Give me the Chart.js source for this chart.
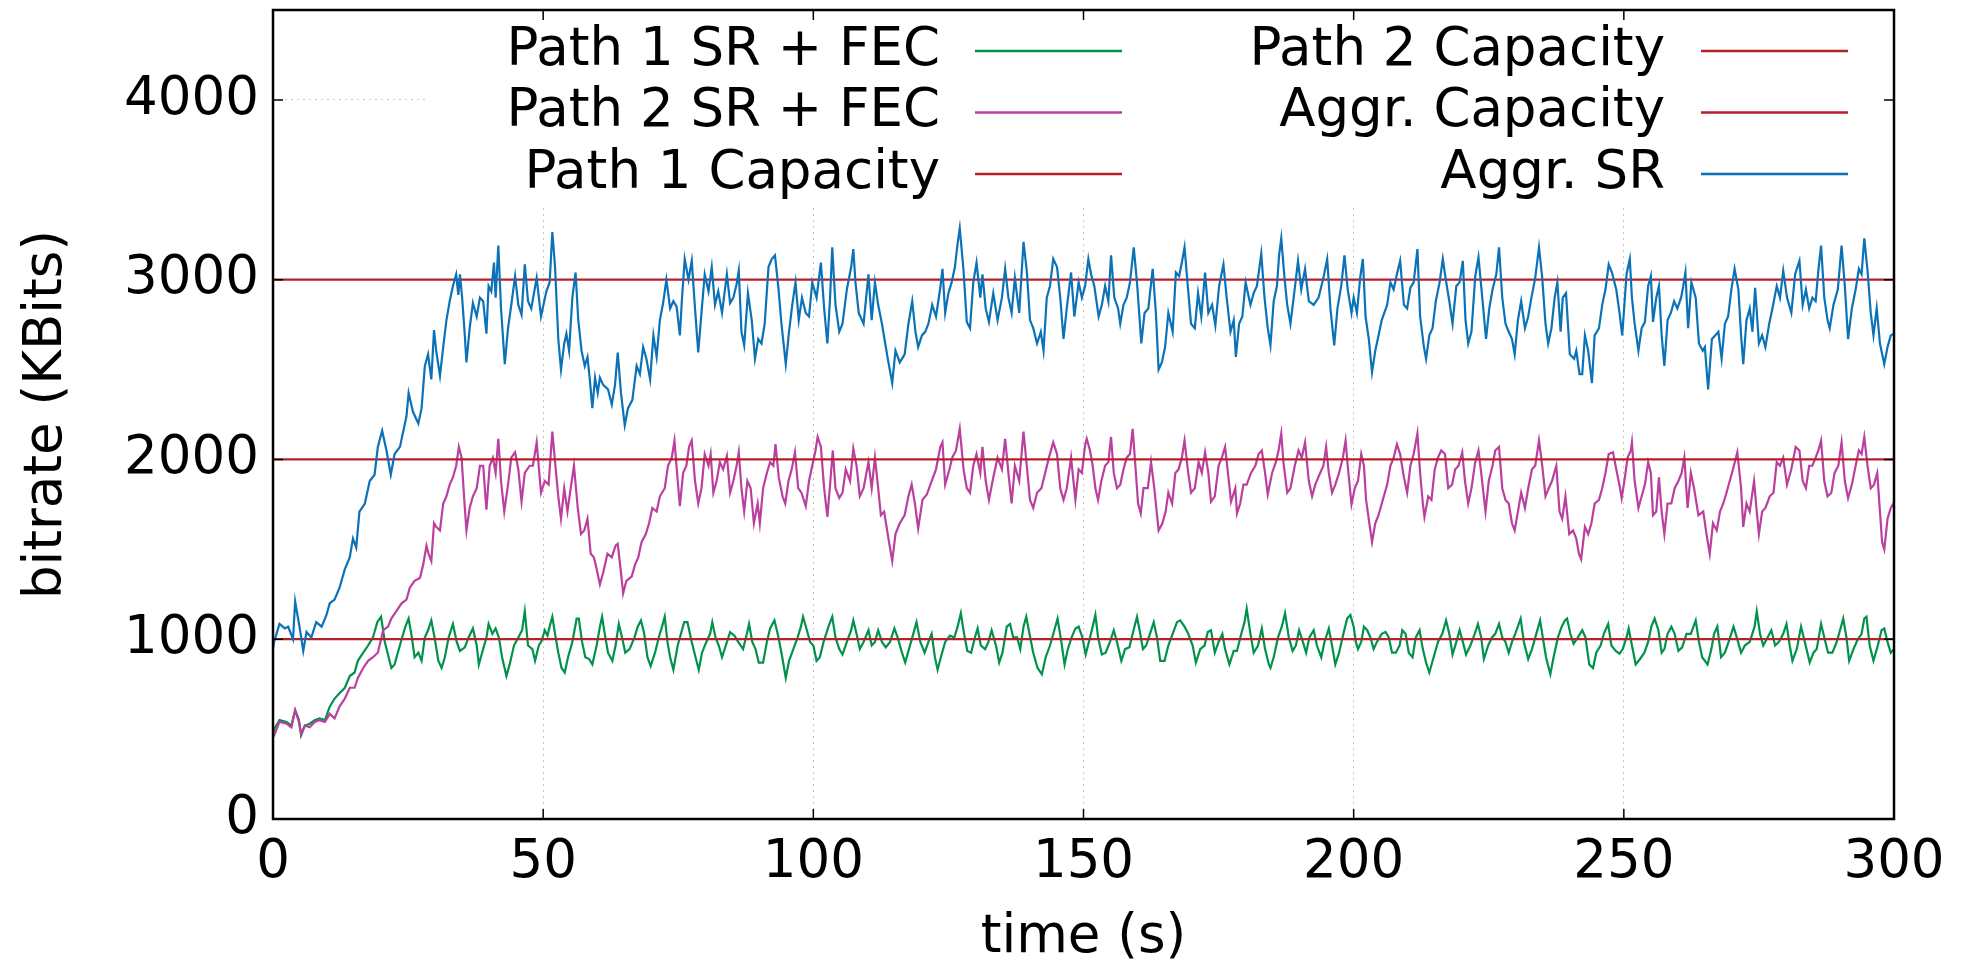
<!DOCTYPE html>
<html>
<head>
<meta charset="utf-8">
<title>bitrate over time</title>
<script src="https://cdn.jsdelivr.net/npm/chart.js@4.4.1/dist/chart.umd.min.js"></script>
<style>
  body { margin: 0; background: #fff; }
  canvas { display: block; }
</style>
</head>
<body>
<canvas id="rateChart" width="1966" height="965"></canvas>
<script>
// axis ticks
const xTicks = [0, 50, 100, 150, 200, 250, 300];
const yTicks = [0, 1000, 2000, 3000, 4000];
const yMax = 4500;

// legend labels, same order as gnuplot key
const seriesLabels = ['Path 1 SR + FEC', 'Path 2 SR + FEC', 'Path 1 Capacity',
                      'Path 2 Capacity', 'Aggr. Capacity', 'Aggr. SR'];
const seriesColors = ['#00924a', '#bb3f9f', '#b3202a', '#b3202a', '#b3202a', '#0b72b8'];

// link capacities (KBits)
const path1Capacity = 1000;
const path2Capacity = 2000;
const aggrCapacity = 3000;

// [time (s), bitrate (KBits)]
const path1Rate = [
  [0,480],[0.2,500],[1.2,550],[2.5,540],[3.4,520],[4.1,605],[4.8,550],[5.2,465],[5.9,520],[6.8,530],[7.7,550],[8.6,560],[9.6,550],
  [10.5,625],[11.4,670],[12.3,700],[13.3,730],[14.2,795],[15.1,815],[15.7,880],[16.7,925],[17.6,965],[18.5,1010],[19.3,1095],[20.0,1125],
  [20.7,985],[21.4,900],[21.9,840],[22.5,860],[23.1,925],[23.9,1010],[24.5,1070],[25.1,1115],[25.7,1010],[26.2,900],[26.9,925],[27.5,880],
  [28.1,1010],[28.7,1050],[29.3,1105],[29.9,1010],[30.6,880],[31.2,840],[31.8,900],[32.5,1010],[33.3,1085],[34.0,985],[34.6,935],[35.5,955],
  [36.2,1010],[37.0,1060],[37.7,965],[38.1,860],[38.7,925],[39.5,1010],[39.9,1085],[40.6,1030],[41.2,1060],[41.8,1010],[42.4,900],[43.2,795],
  [43.8,860],[44.6,965],[45.4,1010],[46.1,1050],[46.6,1155],[47.2,965],[48.0,945],[48.5,880],[49.2,965],[49.7,990],[50.3,1050],[50.8,1020],
  [51.2,1070],[51.7,1125],[52.2,1030],[52.8,925],[53.4,840],[54.0,815],[54.6,900],[55.4,985],[56.2,1115],[56.6,1115],[57.2,985],[57.8,900],
  [58.5,890],[59.1,860],[59.9,965],[60.5,1070],[60.9,1125],[61.4,1030],[62.0,925],[62.8,880],[63.4,965],[64.0,1085],[64.6,1010],[65.2,925],
  [66.0,945],[66.9,1010],[67.5,1070],[68.1,1105],[68.7,1030],[69.3,900],[69.9,850],[70.7,925],[71.4,1010],[72.0,1070],[72.5,1125],[73.0,985],
  [73.5,900],[74.1,830],[74.9,965],[75.5,1030],[76.1,1095],[76.7,1095],[77.5,985],[78.2,900],[78.8,830],[79.4,925],[80.2,985],[80.9,1030],
  [81.3,1095],[81.9,1010],[82.5,965],[83.1,900],[83.8,965],[84.6,1040],[85.4,1020],[86.1,985],[87.0,945],[87.7,1030],[88.1,1085],[88.7,985],
  [89.3,945],[89.9,870],[90.7,870],[91.4,985],[92.0,1060],[92.8,1105],[93.4,1030],[94.1,925],[94.9,785],[95.5,880],[96.3,945],[97.1,1010],
  [97.7,1070],[98.1,1125],[98.8,1050],[99.4,985],[100.0,965],[100.6,880],[101.2,900],[101.9,985],[102.8,1070],[103.5,1125],[104.1,1010],
  [104.8,945],[105.4,915],[106.2,985],[107.0,1050],[107.4,1105],[108.0,1030],[108.6,945],[109.3,985],[110.2,1050],[110.8,965],[111.4,985],
  [112.0,1050],[112.7,985],[113.4,955],[114.2,985],[115.0,1060],[115.6,1010],[116.4,925],[117.0,870],[117.7,945],[118.5,1030],[119.1,1095],
  [119.8,985],[120.6,925],[121.3,985],[121.9,1030],[122.5,900],[123.0,830],[123.6,900],[124.4,985],[125.3,1020],[126.1,1010],[126.7,1070],
  [127.3,1145],[127.9,1030],[128.5,935],[129.2,925],[129.9,1010],[130.4,1060],[131.0,965],[131.8,945],[132.4,985],[133.0,1050],[133.8,965],
  [134.4,870],[135.0,925],[135.8,1070],[136.4,1085],[137.0,1010],[137.7,1010],[138.3,945],[138.9,1070],[139.4,1125],[140.0,1030],[140.7,925],
  [141.5,840],[142.3,805],[143.0,900],[143.8,965],[144.6,1050],[145.2,1115],[145.9,985],[146.5,860],[147.1,945],[147.8,1010],[148.5,1060],
  [149.1,1070],[149.8,1010],[150.4,915],[151.0,985],[151.7,1070],[152.2,1135],[152.7,1010],[153.4,915],[154.1,925],[154.9,985],[155.6,1050],
  [156.2,985],[157.0,880],[157.7,945],[158.5,955],[159.1,1030],[159.9,1125],[160.5,1030],[161.0,945],[161.6,965],[162.3,1030],[163.0,1095],
  [163.6,1010],[164.2,880],[165.0,880],[165.7,965],[166.5,1030],[167.3,1095],[167.9,1105],[168.7,1070],[169.4,1030],[170.2,965],[170.8,870],
  [171.6,945],[172.4,965],[173.0,1040],[173.6,1050],[174.3,925],[175.0,985],[175.7,1030],[176.2,945],[177.0,860],[177.8,935],[178.4,935],
  [179.2,1030],[179.8,1095],[180.2,1170],[180.9,1030],[181.5,925],[182.3,965],[183.0,1060],[183.6,945],[184.3,860],[184.6,840],[185.2,900],
  [186.0,1010],[186.7,1070],[187.3,1145],[188.0,1010],[188.7,935],[189.3,965],[189.9,1050],[190.6,985],[191.2,925],[191.8,1010],[192.6,1050],
  [193.2,965],[194.0,900],[194.6,985],[195.4,1060],[196.0,965],[196.6,860],[197.3,925],[198.1,1030],[198.8,1115],[199.4,1135],[200.0,1070],
  [200.4,985],[200.8,945],[201.4,985],[201.9,1070],[202.5,1050],[203.1,1010],[203.7,945],[204.3,985],[205.2,1030],[205.9,1040],[206.5,1010],
  [207.1,925],[207.8,925],[208.5,965],[209.0,1050],[209.6,1030],[210.2,925],[210.9,900],[211.5,1010],[212.2,1050],[212.8,945],[213.4,870],
  [214.0,815],[214.8,900],[215.6,985],[216.4,1030],[217.1,1105],[217.7,1030],[218.3,915],[219.0,985],[219.6,1050],[220.2,985],[220.8,915],
  [221.6,965],[222.4,1030],[223.0,1085],[223.6,1010],[224.1,890],[224.9,965],[225.6,1010],[226.2,1030],[226.9,1085],[227.5,1010],[228.1,985],
  [228.7,925],[229.3,985],[229.9,1030],[230.9,1115],[231.5,985],[232.3,890],[233.0,945],[233.8,1030],[234.5,1105],[235.0,1010],[235.6,900],
  [236.4,805],[237.0,900],[237.8,1010],[238.5,1070],[239.1,1105],[239.5,1115],[240.1,1030],[240.7,975],[241.5,1010],[242.3,1050],[242.9,1010],
  [243.6,860],[244.3,840],[244.9,925],[245.7,965],[246.3,1030],[247.1,1085],[247.7,965],[248.5,935],[249.2,920],[249.8,945],[250.5,1010],
  [250.9,1060],[251.5,965],[252.2,860],[253.0,890],[253.8,925],[254.5,985],[255.1,1070],[255.7,1115],[256.4,1050],[257.0,925],[257.5,945],
  [258.1,1030],[258.8,1070],[259.4,1030],[260.1,935],[260.8,955],[261.6,1030],[262.4,1030],[263.3,1105],[263.9,985],[264.5,900],[265.5,860],
  [266.2,945],[266.7,1030],[267.3,1070],[268.0,900],[268.7,925],[269.4,985],[270.3,1070],[270.9,1010],[271.7,925],[272.4,965],[273.3,985],
  [274.2,1070],[274.6,1155],[275.2,1030],[275.8,965],[276.6,1010],[277.3,1050],[278.0,965],[278.7,985],[279.5,1030],[280.1,1085],[280.7,965],
  [281.2,880],[282.0,945],[282.8,1070],[283.5,985],[284.4,870],[285.1,925],[285.7,945],[286.5,1085],[287.1,1010],[287.8,925],[288.6,925],
  [289.4,985],[290.2,1070],[290.6,1115],[291.2,1010],[291.7,880],[292.5,945],[293.3,1000],[294.0,1030],[294.5,1115],[294.9,1125],[295.5,965],
  [296.2,880],[297.0,965],[297.7,1050],[298.2,1060],[298.8,985],[299.4,925],[300,945]
];

const path2Rate = [
  [0,455],[0.2,465],[1.2,540],[2.5,530],[3.4,510],[4.1,605],[4.8,540],[5.2,475],[5.9,520],[6.8,510],[7.7,540],[8.6,550],[9.6,540],
  [10.5,585],[11.4,560],[12.3,625],[13.3,670],[14.2,730],[15.1,730],[15.7,785],[16.7,840],[17.6,880],[18.5,900],[19.4,925],[20.4,1050],
  [21.3,1070],[21.9,1115],[22.8,1155],[23.8,1200],[24.7,1220],[25.3,1285],[26.2,1325],[27.2,1340],[27.8,1415],[28.4,1520],[28.8,1475],
  [29.3,1435],[29.8,1645],[30.2,1625],[30.9,1605],[31.5,1755],[32.1,1795],[32.7,1860],[33.3,1900],[33.9,1965],[34.4,2070],[34.9,2010],
  [35.4,1775],[35.8,1605],[36.4,1730],[37.0,1795],[37.7,1840],[38.3,1965],[38.9,1965],[39.5,1720],[40.1,1965],[40.7,2010],[41.2,1925],
  [41.7,2115],[42.2,1880],[42.8,1710],[43.5,1860],[44.1,2010],[44.8,2040],[45.4,1945],[46.0,1765],[46.6,1925],[47.5,1965],[48.1,1965],
  [48.8,2095],[49.6,1815],[50.3,1880],[51.0,1860],[51.7,2155],[52.2,1985],[52.8,1795],[53.3,1670],[53.9,1840],[54.5,1710],[55.1,1840],
  [55.7,1965],[56.4,1730],[57.0,1585],[57.6,1605],[58.2,1670],[58.8,1475],[59.4,1455],[59.9,1390],[60.5,1305],[61.1,1370],[61.9,1475],
  [62.7,1455],[63.4,1520],[63.8,1530],[64.4,1370],[64.8,1255],[65.4,1325],[66.4,1350],[67.0,1415],[67.6,1455],[68.2,1540],[69.0,1585],
  [69.6,1645],[70.2,1730],[71.0,1710],[71.6,1795],[72.5,1840],[73.1,1965],[73.8,2010],[74.3,2105],[74.9,1880],[75.3,1740],[75.9,1925],
  [76.5,1965],[77.0,2070],[77.5,2105],[78.1,1880],[78.7,1755],[79.3,1840],[79.9,2030],[80.6,1965],[81.0,2030],[81.5,1815],[82.1,1880],
  [82.7,1985],[83.3,1945],[84.0,2020],[84.6,1815],[85.2,1880],[85.8,1965],[86.2,2040],[86.7,1840],[87.2,1710],[87.8,1880],[88.4,1840],
  [89.0,1645],[89.7,1755],[90.1,1645],[90.7,1840],[91.4,1925],[92.0,1985],[92.6,1965],[93.0,2085],[93.6,1900],[94.3,1795],[94.8,1755],
  [95.4,1880],[96.0,1945],[96.6,2040],[97.2,1840],[97.8,1815],[98.6,1740],[99.2,1880],[99.8,1965],[100.4,2050],[100.8,2125],[101.4,2070],
  [102.0,1840],[102.6,1680],[103.1,1860],[103.6,2050],[104.1,1840],[104.8,1785],[105.4,1815],[106.0,1945],[106.8,1880],[107.4,2060],
  [108.0,1965],[108.6,1795],[109.3,1840],[110.2,1985],[110.8,1840],[111.4,2010],[112.0,1840],[112.5,1690],[113.1,1710],[113.9,1560],
  [114.6,1435],[115.2,1585],[116.0,1645],[116.9,1690],[117.6,1795],[118.2,1860],[118.8,1755],[119.4,1615],[120.2,1775],[121.0,1805],
  [121.9,1880],[122.7,1945],[123.5,2070],[123.9,2095],[124.4,1860],[125.2,1945],[125.7,2010],[126.4,2050],[127.1,2170],[127.8,1945],
  [128.4,1840],[129.0,1815],[129.6,1965],[130.2,2030],[130.9,1925],[131.3,2070],[131.9,1880],[132.5,1775],[133.3,1900],[134.1,2010],
  [134.9,1945],[135.5,2115],[136.1,1925],[136.7,1755],[137.3,1965],[138.1,1880],[138.9,2155],[139.5,1965],[140.1,1775],[140.7,1730],
  [141.4,1815],[142.2,1840],[142.9,1925],[143.6,2010],[144.4,2095],[145.1,2030],[145.7,1840],[146.3,1775],[146.9,1840],[147.7,2010],
  [148.5,1775],[149.1,1945],[149.7,1925],[150.3,2080],[150.6,2115],[151.2,2050],[151.7,1965],[152.2,1840],[152.7,1775],[153.3,1880],
  [154.0,1965],[154.6,1985],[155.1,2125],[155.6,1925],[156.2,1840],[156.8,1860],[157.4,1945],[158.0,2010],[158.6,2030],[159.1,2170],
  [159.6,1965],[160.1,1755],[160.6,1700],[161.1,1840],[161.9,1840],[162.5,1985],[163.1,1840],[163.9,1605],[164.6,1645],[165.2,1710],
  [165.7,1815],[166.4,1755],[167.0,1925],[167.6,1945],[168.2,2010],[168.7,2105],[169.3,1945],[169.9,1815],[170.6,1840],[171.3,1985],
  [171.9,1925],[172.5,2040],[173.1,1925],[173.6,1765],[174.3,1795],[175.0,1965],[175.6,2010],[176.2,2070],[176.9,1880],[177.3,1765],
  [178.1,1840],[178.4,1700],[179.0,1755],[179.6,1860],[180.2,1860],[181.0,1925],[181.8,1965],[182.4,2030],[183.0,2050],[183.6,1925],
  [184.1,1805],[184.9,1925],[185.6,1985],[186.1,2050],[186.6,2145],[187.0,1985],[187.7,1815],[188.3,1840],[189.1,1965],[189.8,2050],
  [190.4,2010],[191.0,2095],[191.7,1880],[192.3,1795],[192.9,1860],[193.8,1925],[194.4,1965],[194.9,2070],[195.4,1925],[196.0,1815],
  [196.6,1860],[197.3,1925],[198.0,2010],[198.5,2105],[198.9,1965],[199.6,1750],[200.2,1840],[200.8,1880],[201.4,2030],[201.9,1965],
  [202.3,1775],[202.9,1645],[203.4,1540],[204.0,1645],[204.6,1690],[205.2,1755],[206.2,1860],[206.8,1965],[207.4,2010],[208.0,2085],
  [208.6,2030],[209.3,1900],[209.9,1815],[210.5,1965],[211.1,2030],[211.8,2145],[212.3,1925],[212.8,1755],[213.1,1680],[213.8,1795],
  [214.4,1775],[215.0,1945],[215.6,2010],[216.2,2050],[216.9,2030],[217.5,1840],[218.2,1860],[218.8,1945],[219.4,1965],[220.1,2040],
  [220.6,1880],[221.2,1755],[221.8,1840],[222.5,1985],[223.1,2050],[223.6,1925],[224.4,1710],[225.0,1880],[225.7,1965],[226.2,2050],
  [226.9,2070],[227.5,1840],[228.1,1775],[228.7,1755],[229.3,1645],[229.8,1605],[230.4,1710],[231.0,1815],[231.7,1730],[232.3,1840],
  [233.0,1945],[233.6,1965],[234.3,2105],[234.9,1965],[235.5,1795],[236.1,1840],[236.7,1880],[237.5,1965],[238.1,1710],[238.6,1670],
  [239.2,1795],[239.9,1585],[240.6,1605],[241.2,1560],[241.7,1475],[242.1,1445],[242.8,1625],[243.4,1585],[244.0,1645],[244.6,1755],
  [245.4,1775],[246.0,1840],[246.6,1925],[247.2,2030],[248.0,2040],[248.6,1945],[249.3,1840],[249.6,1785],[250.1,1880],[250.7,2010],
  [251.3,2050],[251.5,2095],[252.0,1880],[252.7,1730],[253.3,1795],[253.9,1860],[254.5,1985],[255.0,1925],[255.4,1690],[256.0,1710],
  [256.5,1900],[257.0,1710],[257.5,1585],[258.1,1755],[258.8,1755],[259.4,1840],[260.1,1880],[260.7,1925],[261.2,2010],[261.8,1730],
  [262.4,1925],[263.0,1840],[263.8,1690],[264.7,1710],[265.3,1585],[265.9,1475],[266.5,1645],[267.2,1605],[267.8,1710],[268.4,1755],
  [269.0,1815],[269.6,1880],[270.2,1945],[271.0,2040],[271.7,1840],[272.1,1625],[272.7,1755],[273.3,1710],[274.1,1880],[274.6,1710],
  [275.0,1585],[275.6,1710],[276.2,1730],[277.0,1795],[277.7,1815],[278.3,1985],[278.9,1965],[279.5,2010],[280.2,1860],[281.0,1945],
  [281.8,2070],[282.5,2050],[283.1,1880],[283.7,1840],[284.3,1965],[284.9,1965],[285.5,2010],[286.0,2050],[286.5,2105],[287.1,1880],
  [287.7,1795],[288.4,1815],[289.0,1925],[289.7,1965],[290.3,2095],[290.9,1880],[291.5,1785],[292.2,1860],[292.9,1965],[293.5,2050],
  [294.0,2030],[294.5,2125],[295.1,1965],[295.7,1840],[296.3,1860],[296.9,1925],[297.4,1710],[297.8,1540],[298.2,1500],[298.8,1670],
  [299.4,1730],[300,1760]
];

const aggrRate = [
  [0,950],[0.2,985],[1.2,1085],[2.2,1060],[2.8,1070],[3.7,1000],[4.1,1210],[4.9,1070],[5.6,935],[6.2,1040],[7.1,1010],[8.0,1095],
  [9.0,1070],[9.9,1135],[10.5,1200],[11.4,1220],[12.3,1285],[13.3,1390],[14.2,1455],[14.8,1560],[15.4,1510],[16.0,1710],[17.0,1755],
  [17.9,1880],[18.8,1915],[19.4,2070],[20.2,2160],[21.0,2050],[21.8,1915],[22.5,2030],[23.5,2070],[24.1,2155],[24.7,2240],[25.1,2370],
  [25.9,2265],[26.9,2200],[27.5,2285],[28.1,2520],[28.7,2585],[29.3,2445],[29.8,2720],[30.2,2605],[30.9,2465],[31.5,2625],[32.1,2775],
  [32.7,2880],[33.3,2965],[33.9,3030],[34.3,2915],[34.6,3030],[35.0,2900],[35.5,2690],[35.8,2540],[36.4,2730],[37.0,2870],[37.7,2795],
  [38.3,2900],[38.9,2880],[39.5,2700],[39.9,2965],[40.4,2935],[40.9,3095],[41.2,2900],[41.7,3190],[42.2,2840],[42.9,2530],[43.5,2730],
  [44.1,2860],[44.8,3020],[45.4,2860],[46.0,2805],[46.6,3085],[47.2,2880],[47.8,2840],[48.8,3010],[49.6,2795],[50.6,2935],[51.2,2985],
  [51.7,3265],[52.2,3070],[52.8,2670],[53.3,2500],[53.9,2645],[54.3,2700],[54.8,2605],[55.4,2900],[56.0,3040],[56.5,2775],[57.1,2605],
  [57.7,2520],[58.2,2570],[58.6,2455],[59.1,2285],[59.6,2455],[60.1,2370],[60.5,2455],[61.1,2415],[62.0,2390],[62.7,2305],[63.3,2415],
  [63.8,2595],[64.4,2370],[65.1,2190],[65.7,2285],[66.5,2330],[67.3,2520],[67.9,2475],[68.5,2625],[69.1,2560],[69.8,2445],[70.4,2690],
  [71.0,2570],[71.6,2775],[72.2,2870],[72.8,3000],[73.5,2840],[74.1,2880],[74.7,2850],[75.3,2690],[75.7,2900],[76.2,3115],[76.9,3000],
  [77.5,3105],[78.1,2840],[78.7,2595],[79.3,2815],[79.9,3030],[80.6,2935],[81.2,3070],[81.8,2860],[82.4,2935],[83.1,2815],[84.0,3030],
  [84.6,2870],[85.2,2900],[85.8,2975],[86.2,3050],[86.7,2710],[87.2,2635],[87.9,2925],[88.6,2775],[89.2,2560],[89.8,2670],[90.4,2645],
  [91.0,2755],[91.7,3070],[92.3,3115],[92.9,3135],[93.5,2965],[94.1,2755],[94.9,2530],[95.5,2710],[96.1,2860],[96.7,2985],[97.3,2775],
  [97.9,2900],[98.6,2815],[99.2,2795],[99.8,2985],[100.6,2900],[101.4,3095],[102.0,2840],[102.6,2645],[103.1,2900],[103.5,3180],
  [104.1,2860],[104.8,2710],[105.4,2755],[106.2,2945],[107.0,3070],[107.4,3170],[107.8,2985],[108.4,2815],[109.3,2755],[110.2,3030],
  [110.8,2775],[111.4,2985],[112.0,2860],[112.7,2755],[113.3,2645],[113.9,2540],[114.6,2425],[115.2,2605],[116.0,2540],[116.9,2585],
  [117.6,2755],[118.3,2880],[118.9,2710],[119.4,2625],[120.1,2690],[120.7,2710],[121.3,2755],[122.0,2860],[122.7,2795],[123.5,2955],
  [123.9,3060],[124.4,2815],[125.0,2925],[125.6,2985],[126.2,3070],[126.7,3200],[127.1,3285],[127.8,3050],[128.4,2765],[129.0,2730],
  [129.6,2985],[130.2,3095],[130.9,2900],[131.3,3030],[131.9,2840],[132.5,2765],[133.3,2925],[134.1,2775],[134.9,2900],[135.5,3060],
  [136.1,2900],[136.7,2815],[137.3,3010],[138.1,2815],[138.9,3210],[139.5,3050],[140.1,2775],[140.7,2730],[141.4,2645],[142.1,2710],
  [142.6,2605],[143.2,2900],[143.8,2965],[144.4,3115],[145.1,3070],[145.7,2900],[146.3,2670],[146.9,2840],[147.7,3040],[148.3,2795],
  [149.1,2985],[149.7,2900],[150.3,2965],[150.9,3115],[151.4,3030],[152.0,2965],[152.8,2795],[153.4,2860],[154.0,2965],[154.6,2880],
  [155.1,3135],[155.7,2900],[156.4,2840],[156.8,2755],[157.4,2860],[158.0,2900],[158.6,2985],[159.3,3180],[159.9,2985],[160.3,2815],
  [160.7,2645],[161.3,2815],[162.0,2840],[162.8,3060],[163.4,2815],[163.9,2500],[164.5,2540],[165.1,2625],[165.7,2815],[166.5,2710],
  [167.1,3040],[167.7,3020],[168.2,3095],[168.7,3180],[169.3,2965],[169.9,2755],[170.6,2730],[171.2,2925],[171.8,2795],[172.5,3040],
  [173.1,2815],[173.8,2860],[174.4,2745],[175.1,2965],[175.9,3085],[176.5,2900],[177.2,2710],[177.8,2775],[178.2,2570],[178.8,2755],
  [179.4,2795],[180.0,2985],[180.9,2860],[181.5,2925],[182.1,2965],[182.9,3145],[183.5,2900],[184.1,2730],[184.6,2635],[185.2,2880],
  [185.8,2965],[186.2,3135],[186.6,3230],[187.2,3010],[187.7,2860],[188.3,2755],[188.9,2900],[189.7,3105],[190.3,2945],[191.0,3060],
  [191.7,2880],[192.6,2860],[193.5,2900],[194.4,3010],[195.1,3115],[195.7,2840],[196.4,2635],[197.0,2840],[197.7,2965],[198.3,3135],
  [198.9,2945],[199.6,2815],[200.0,2900],[200.6,2815],[201.2,3010],[201.7,3115],[202.2,2795],[202.8,2670],[203.4,2485],[204.0,2605],
  [204.6,2690],[205.2,2775],[206.2,2860],[206.8,2985],[207.4,2945],[208.0,3030],[208.6,3105],[209.3,2860],[209.9,2840],[210.5,2955],
  [211.1,2985],[211.8,3170],[212.3,2795],[213.0,2625],[213.4,2560],[214.0,2690],[214.6,2730],[215.2,2880],[215.9,2985],[216.5,3115],
  [217.0,3010],[217.7,2880],[218.3,2755],[219.0,2965],[219.6,2985],[220.2,3105],[220.7,2775],[221.2,2645],[221.8,2710],[222.5,3020],
  [223.1,3125],[223.8,2900],[224.5,2670],[225.1,2840],[225.7,2945],[226.4,3030],[226.9,3180],[227.5,2900],[228.1,2755],[228.7,2710],
  [229.3,2670],[229.8,2585],[230.4,2775],[231.0,2880],[231.7,2730],[232.3,2795],[232.9,2900],[233.6,3010],[234.3,3180],[234.9,3010],
  [235.5,2755],[236.0,2645],[236.6,2730],[237.2,2900],[237.7,2985],[238.3,2710],[238.7,2900],[239.3,2925],[240.0,2585],[240.8,2560],
  [241.2,2605],[241.8,2475],[242.3,2475],[242.8,2690],[243.4,2605],[244.1,2425],[244.6,2690],[245.4,2730],[246.0,2860],[246.6,2945],
  [247.2,3085],[247.8,3040],[248.6,2945],[249.2,2815],[249.7,2690],[250.5,3030],[251.1,3115],[251.5,2900],[252.0,2755],[252.7,2605],
  [253.3,2730],[253.9,2765],[254.5,2965],[255.0,3020],[255.4,2765],[256.0,2900],[256.5,2965],[257.0,2690],[257.5,2520],[258.1,2775],
  [258.7,2815],[259.3,2880],[259.9,2840],[260.6,2900],[261.0,2965],[261.4,3040],[261.9,2730],[262.5,2985],[263.3,2900],[263.9,2645],
  [264.6,2605],[265.0,2625],[265.6,2390],[266.3,2670],[266.9,2690],[267.5,2710],[268.1,2560],[268.7,2755],[269.3,2795],[269.9,2945],
  [270.5,3060],[271.2,2945],[271.7,2690],[272.1,2530],[272.7,2775],[273.3,2840],[273.8,2710],[274.3,2955],[275.0,2645],[275.6,2690],
  [276.2,2625],[276.9,2755],[277.5,2840],[278.3,2965],[278.9,2900],[279.5,3050],[280.2,2900],[281.0,2815],[281.7,3030],[282.5,3105],
  [283.1,2860],[283.7,2945],[284.3,2840],[284.9,2900],[285.5,2880],[286.0,3050],[286.5,3190],[287.1,2900],[287.7,2775],[288.1,2730],
  [288.8,2860],[289.6,2945],[290.3,3190],[290.9,2965],[291.5,2670],[292.2,2840],[292.9,2945],[293.5,3060],[294.0,3030],[294.5,3230],
  [295.1,3050],[295.7,2815],[296.2,2690],[296.8,2840],[297.4,2645],[298.2,2530],[298.8,2625],[299.4,2690],[300,2700]
];

const fontFamily = '"DejaVu Sans", "Liberation Sans", sans-serif';
const fontSize = 53;

function toPoints(pairs) {
  return pairs.map(p => ({ x: p[0], y: p[1] }));
}

// a capacity is constant over the whole run
function capacityLine(value) {
  return [{ x: xTicks[0], y: value }, { x: xTicks[xTicks.length - 1], y: value }];
}

// gnuplot style key, border and mirrored tics
const gnuplotFrame = {
  id: 'gnuplotFrame',
  afterDraw(chart) {
    const ctx = chart.ctx;
    const area = chart.chartArea;
    const xs = chart.scales.x;
    const ys = chart.scales.y;

    // opaque key box
    ctx.save();
    ctx.fillStyle = '#ffffff';
    ctx.fillRect(426, area.top + 2, area.right - 4 - 426, 195);

    ctx.font = fontSize + 'px ' + fontFamily;
    ctx.textAlign = 'right';
    ctx.textBaseline = 'middle';
    const colText = [940, 1665];
    const colLine = [975, 1701];
    chart.data.datasets.forEach((ds, i) => {
      const col = Math.floor(i / 3);
      const row = i % 3;
      const y = area.top + 41 + row * 61.5;
      ctx.fillStyle = '#000';
      ctx.fillText(ds.label, colText[col], y);
      ctx.strokeStyle = ds.borderColor;
      ctx.lineWidth = 2.5;
      ctx.beginPath();
      ctx.moveTo(colLine[col], y);
      ctx.lineTo(colLine[col] + 147, y);
      ctx.stroke();
    });

    // tics on all four sides
    const ticLen = 10;
    ctx.strokeStyle = '#000';
    ctx.lineWidth = 1.5;
    ctx.beginPath();
    xTicks.forEach(v => {
      const px = xs.getPixelForValue(v);
      ctx.moveTo(px, area.bottom);
      ctx.lineTo(px, area.bottom - ticLen);
      ctx.moveTo(px, area.top);
      ctx.lineTo(px, area.top + ticLen);
    });
    yTicks.forEach(v => {
      const py = ys.getPixelForValue(v);
      ctx.moveTo(area.left, py);
      ctx.lineTo(area.left + ticLen, py);
      ctx.moveTo(area.right, py);
      ctx.lineTo(area.right - ticLen, py);
    });
    ctx.stroke();

    // border
    ctx.lineWidth = 2.5;
    ctx.strokeRect(area.left, area.top, area.right - area.left, area.bottom - area.top);
    ctx.restore();
  }
};

const lineStyle = { borderWidth: 2.2, pointRadius: 0, fill: false, tension: 0 };

new Chart(document.getElementById('rateChart'), {
  type: 'line',
  data: {
    datasets: [
      { ...lineStyle, label: seriesLabels[0], data: toPoints(path1Rate), borderColor: seriesColors[0], order: 5 },
      { ...lineStyle, label: seriesLabels[1], data: toPoints(path2Rate), borderColor: seriesColors[1], order: 4 },
      { ...lineStyle, label: seriesLabels[2], data: capacityLine(path1Capacity), borderColor: seriesColors[2], order: 3 },
      { ...lineStyle, label: seriesLabels[3], data: capacityLine(path2Capacity), borderColor: seriesColors[3], order: 2 },
      { ...lineStyle, label: seriesLabels[4], data: capacityLine(aggrCapacity), borderColor: seriesColors[4], order: 1 },
      { ...lineStyle, label: seriesLabels[5], data: toPoints(aggrRate), borderColor: seriesColors[5], order: 0 }
    ]
  },
  options: {
    responsive: false,
    animation: false,
    devicePixelRatio: 1,
    layout: { padding: { left: 0, top: 10, right: 72, bottom: 0 } },
    plugins: { legend: { display: false }, tooltip: { enabled: false } },
    scales: {
      x: {
        type: 'linear',
        min: xTicks[0],
        max: xTicks[xTicks.length - 1],
        afterBuildTicks: scale => { scale.ticks = xTicks.map(v => ({ value: v })); },
        afterFit: scale => {
          scale.height = 146;
          scale.paddingLeft = 0;
          scale.paddingRight = 0;
        },
        grid: { color: '#c4c4c4', lineWidth: 1, drawTicks: false },
        border: { display: false, dash: [2, 4] },
        ticks: {
          autoSkip: false, maxRotation: 0, padding: 12, color: '#000',
          font: { family: fontFamily, size: fontSize },
          callback: v => String(v)
        },
        title: {
          display: true, text: 'time (s)', color: '#000',
          font: { family: fontFamily, size: fontSize, lineHeight: 1 },
          padding: { top: 0, bottom: 0 }
        }
      },
      y: {
        min: 0,
        max: yMax,
        afterBuildTicks: scale => { scale.ticks = yTicks.map(v => ({ value: v })); },
        afterFit: scale => {
          scale.width = 273;
          scale.paddingTop = 0;
          scale.paddingBottom = 0;
        },
        grid: { color: '#c4c4c4', lineWidth: 1, drawTicks: false },
        border: { display: false, dash: [2, 4] },
        ticks: {
          padding: 14, color: '#000',
          font: { family: fontFamily, size: fontSize },
          callback: v => String(v)
        },
        title: {
          display: true, text: 'bitrate (KBits)', color: '#000',
          font: { family: fontFamily, size: fontSize, lineHeight: 1 },
          padding: { top: 21, bottom: 0 }
        }
      }
    }
  },
  plugins: [gnuplotFrame]
});
</script>
</body>
</html>
